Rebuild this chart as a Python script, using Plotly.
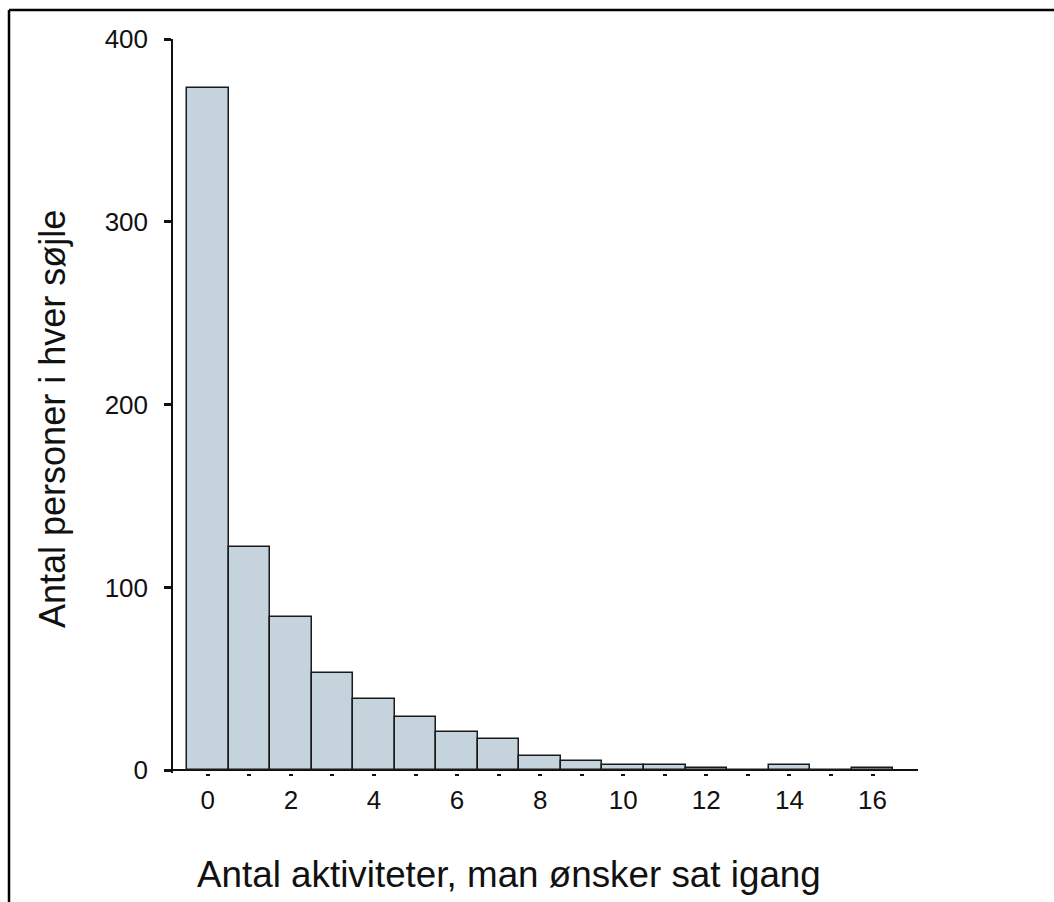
import plotly.graph_objects as go

# Data
activities = list(range(17))
persons = [373, 122, 84, 53, 39, 29, 21, 17, 8, 5, 3, 3, 1, 0, 3, 0, 1]
x_tick_vals = list(range(17))
x_tick_text = [str(v) if v % 2 == 0 else "" for v in x_tick_vals]
y_tick_vals = [0, 100, 200, 300, 400]
x_title = "Antal aktiviteter, man ønsker sat igang"
y_title = "Antal personer i hver søjle"

FONT = "Arial, Liberation Sans, Helvetica, sans-serif"

fig = go.Figure()
fig.add_trace(go.Bar(
    x=activities, y=persons, width=1.0,
    marker=dict(color="#c5d3dc", line=dict(color="#1a1a1a", width=1.5)),
    showlegend=False, hoverinfo="x+y",
))

W, H = 1054, 902
L, R, T, B = 173, 136, 39, 129
pw, ph = W - L - R, H - T - B

def px(xp):
    return (xp - L) / pw

def py(yp):
    return (H - B - yp) / ph

fig.update_layout(
    width=W, height=H,
    margin=dict(l=L, r=R, t=T, b=B, pad=0),
    paper_bgcolor="white", plot_bgcolor="white",
    bargap=0,
    font=dict(family=FONT, color="#111111"),
    xaxis=dict(
        range=[-0.837, 17.095], showgrid=False, zeroline=False, showline=False,
        tickmode="array", tickvals=x_tick_vals, ticktext=x_tick_text,
        ticks="outside", ticklen=2, tickwidth=4, tickcolor="#111111",
        tickfont=dict(size=26, family=FONT, color="#111111"),
        ticklabelstandoff=2,
    ),
    yaxis=dict(
        range=[-1.5, 400], showgrid=False,
        zeroline=True, zerolinecolor="#111111", zerolinewidth=1.5,
        showline=True, linecolor="#111111", linewidth=1.5,
        tickmode="array", tickvals=y_tick_vals,
        ticks="outside", ticklen=7, tickwidth=3, tickcolor="#111111",
        tickfont=dict(size=26, family=FONT, color="#111111"),
        ticklabelstandoff=11,
    ),
    shapes=[
        dict(type="line", xref="paper", yref="paper",
             x0=px(9), x1=px(W + 20), y0=py(10), y1=py(10),
             line=dict(color="black", width=2.5)),
        dict(type="line", xref="paper", yref="paper",
             x0=px(9), x1=px(9), y0=py(10), y1=py(H + 20),
             line=dict(color="black", width=2.5)),
    ],
    annotations=[
        dict(text=x_title, xref="paper", yref="paper", x=px(509), y=py(874),
             xanchor="center", yanchor="middle", showarrow=False,
             font=dict(size=36.8, family=FONT, color="#111111")),
        dict(text=y_title, xref="paper", yref="paper", x=px(52), y=py(419),
             xanchor="center", yanchor="middle", showarrow=False, textangle=-90,
             font=dict(size=36, family=FONT, color="#111111")),
    ],
)

fig.write_html("out.html", config={"displayModeBar": False},
               post_script="document.body.style.margin='0';")
